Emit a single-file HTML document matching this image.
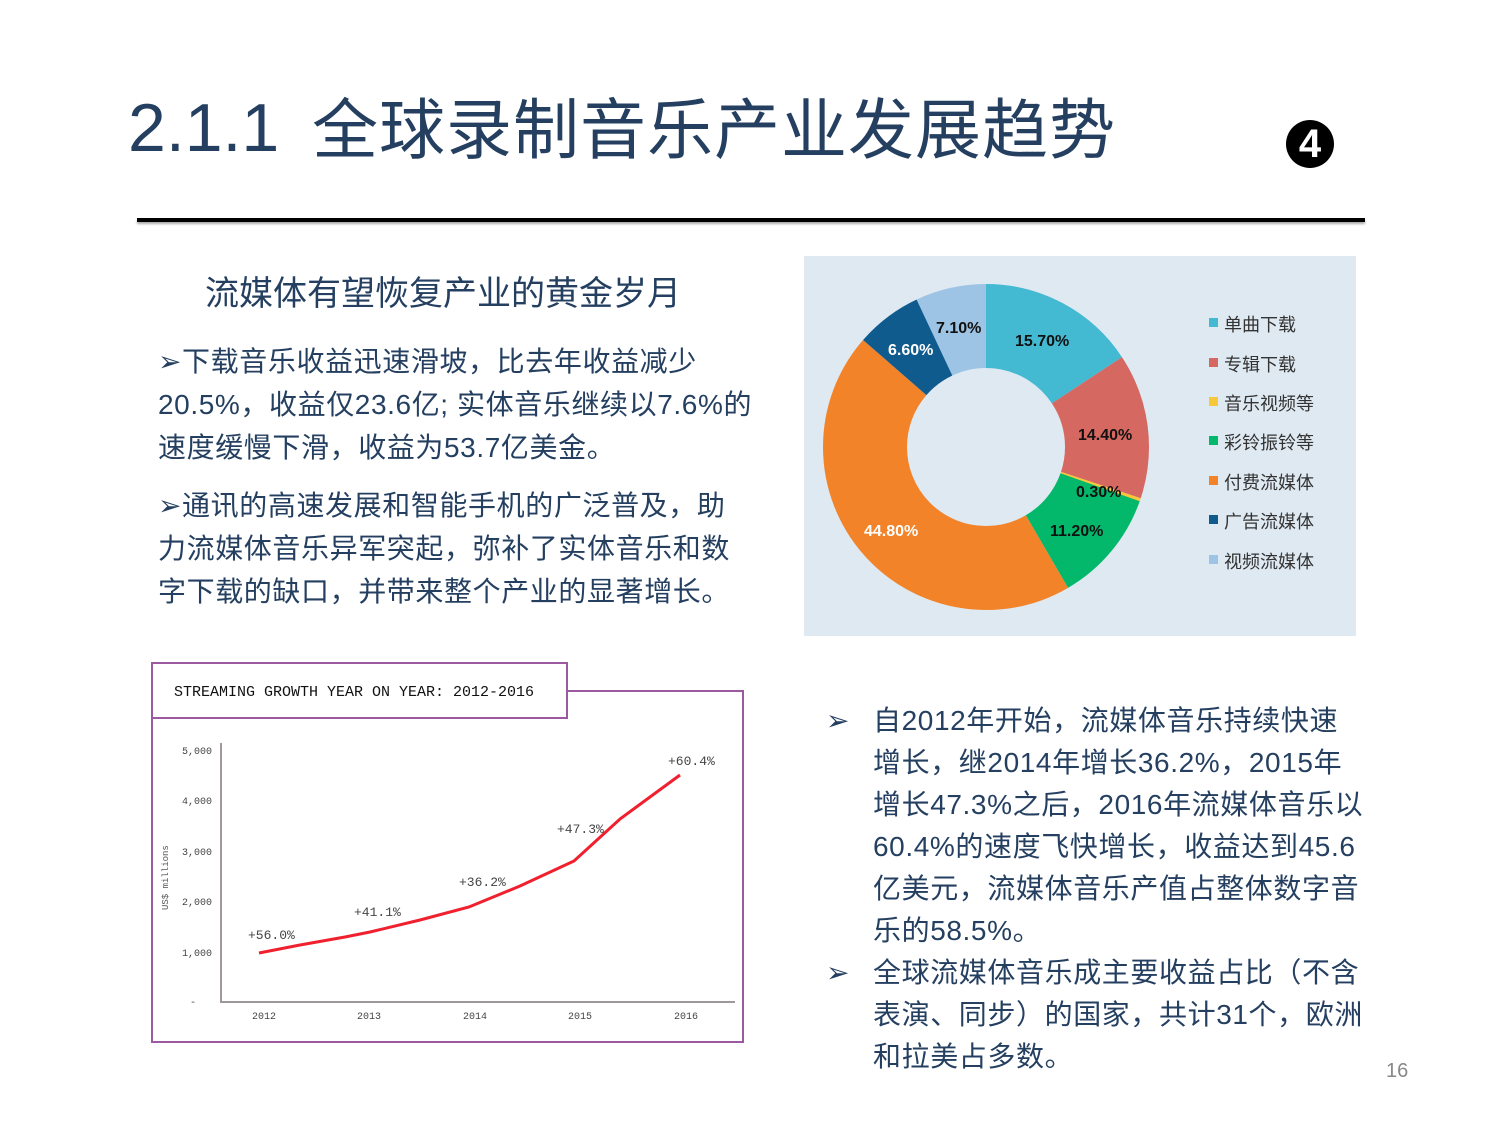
<!DOCTYPE html>
<html><head><meta charset="utf-8"><style>
body{margin:0;width:1500px;height:1125px;background:#fff;position:relative;overflow:hidden;font-family:"Liberation Sans","Noto Sans CJK SC",sans-serif;}
.a{position:absolute;white-space:nowrap;}
.t{color:#243f60;}
.p{font-size:28px;color:#243f60;line-height:43px;}
</style></head><body>
<div class="a t" style="left:128px;top:88px;font-size:68px;line-height:80px;">2.1.1</div>
<div class="a t" style="left:312px;top:90px;font-size:66px;line-height:80px;letter-spacing:1px;">全球录制音乐产业发展趋势</div>
<div class="a" style="left:1286px;top:120px;width:48px;height:48px;border-radius:50%;background:#000;color:#fff;font-size:40px;font-weight:bold;text-align:center;line-height:48px;">4</div>
<div class="a" style="left:137px;top:218px;width:1228px;height:4px;background:#000;box-shadow:0 2px 2px #aaa;"></div>

<div class="a t" style="left:205px;top:266px;font-size:34px;">流媒体有望恢复产业的黄金岁月</div>
<div class="a p" style="left:158px;top:340px;letter-spacing:0.6px;">➢下载音乐收益迅速滑坡，比去年收益减少<br>20.5%，收益仅23.6亿; 实体音乐继续以7.6%的<br>速度缓慢下滑，收益为53.7亿美金。</div>
<div class="a p" style="left:158px;top:484px;letter-spacing:0.6px;">➢通讯的高速发展和智能手机的广泛普及，助<br>力流媒体音乐异军突起，弥补了实体音乐和数<br>字下载的缺口，并带来整个产业的显著增长。</div>

<div class="a" style="left:804px;top:256px;width:552px;height:380px;background:#dfe9f2;"></div>
<svg class="a" style="left:0;top:0" width="1500" height="1125">
<g transform="translate(986,447) rotate(-90)" fill="none" stroke-width="84">
<circle r="121" pathLength="100" stroke="#43b9d2" stroke-dasharray="15.7 100" stroke-dashoffset="0"/>
<circle r="121" pathLength="100" stroke="#d66862" stroke-dasharray="14.4 100" stroke-dashoffset="-15.7"/>
<circle r="121" pathLength="100" stroke="#f6c83a" stroke-dasharray="0.4 100" stroke-dashoffset="-30.1"/>
<circle r="121" pathLength="100" stroke="#03b86a" stroke-dasharray="11.2 100" stroke-dashoffset="-30.4"/>
<circle r="121" pathLength="100" stroke="#f28329" stroke-dasharray="44.8 100" stroke-dashoffset="-41.6"/>
<circle r="121" pathLength="100" stroke="#105b8e" stroke-dasharray="6.6 100" stroke-dashoffset="-86.4"/>
<circle r="121" pathLength="100" stroke="#9dc3e5" stroke-dasharray="7.1 100" stroke-dashoffset="-93"/>
</g>
<g font-family="Liberation Sans" font-size="16" font-weight="bold">
<text x="1015" y="346" fill="#111">15.70%</text>
<text x="936" y="333" fill="#111">7.10%</text>
<text x="888" y="355" fill="#fff">6.60%</text>
<text x="1078" y="440" fill="#111">14.40%</text>
<text x="1076" y="497" fill="#111">0.30%</text>
<text x="1050" y="536" fill="#111">11.20%</text>
<text x="864" y="536" fill="#fff">44.80%</text>
</g>
<g font-family="Liberation Sans,Noto Sans CJK SC,sans-serif" font-size="18" fill="#333">
<rect x="1209" y="318" width="9" height="9" fill="#43b9d2"/><text x="1224" y="331">单曲下载</text>
<rect x="1209" y="358" width="9" height="9" fill="#d66862"/><text x="1224" y="371">专辑下载</text>
<rect x="1209" y="397" width="9" height="9" fill="#f6c83a"/><text x="1224" y="410">音乐视频等</text>
<rect x="1209" y="436" width="9" height="9" fill="#03b86a"/><text x="1224" y="449">彩铃振铃等</text>
<rect x="1209" y="476" width="9" height="9" fill="#f28329"/><text x="1224" y="489">付费流媒体</text>
<rect x="1209" y="515" width="9" height="9" fill="#105b8e"/><text x="1224" y="528">广告流媒体</text>
<rect x="1209" y="555" width="9" height="9" fill="#9dc3e5"/><text x="1224" y="568">视频流媒体</text>
</g>

<rect x="152" y="691" width="591" height="351" fill="none" stroke="#9b59a0" stroke-width="2"/>
<rect x="152" y="663" width="415" height="55" fill="#fff" stroke="#9b59a0" stroke-width="2"/>
<text x="174" y="696" font-family="Liberation Mono,monospace" font-size="15" fill="#111">STREAMING GROWTH YEAR ON YEAR: 2012-2016</text>
<line x1="221" y1="743" x2="221" y2="1002" stroke="#a09898" stroke-width="2"/>
<line x1="220" y1="1002" x2="735" y2="1002" stroke="#a09898" stroke-width="2"/>
<g font-family="Liberation Mono,monospace" font-size="10" fill="#444" text-anchor="end">
<text x="212" y="754">5,000</text><text x="212" y="804">4,000</text><text x="212" y="855">3,000</text>
<text x="212" y="905">2,000</text><text x="212" y="956">1,000</text><text x="196" y="1005">-</text>
</g>
<text transform="translate(168,910) rotate(-90)" font-family="Liberation Mono,monospace" font-size="9" fill="#555">US$ millions</text>
<g font-family="Liberation Mono,monospace" font-size="10" fill="#444" text-anchor="middle">
<text x="264" y="1019">2012</text><text x="369" y="1019">2013</text><text x="475" y="1019">2014</text><text x="580" y="1019">2015</text><text x="686" y="1019">2016</text>
</g>
<polyline points="259,953 300,945 345,937 370,932 420,920 469,907 520,886 574,861 620,819 680,775" fill="none" stroke="#f0202e" stroke-width="3"/>
<g font-family="Liberation Mono,monospace" font-size="13" fill="#444">
<text x="248" y="939">+56.0%</text><text x="354" y="916">+41.1%</text><text x="459" y="886">+36.2%</text>
<text x="557" y="833">+47.3%</text><text x="668" y="765">+60.4%</text>
</g>
</svg>

<div class="a p" style="left:826px;top:700px;line-height:42px;">➢</div>
<div class="a p" style="left:873px;top:700px;line-height:42px;letter-spacing:0.6px;">自2012年开始，流媒体音乐持续快速<br>增长，继2014年增长36.2%，2015年<br>增长47.3%之后，2016年流媒体音乐以<br>60.4%的速度飞快增长，收益达到45.6<br>亿美元，流媒体音乐产值占整体数字音<br>乐的58.5%。</div>
<div class="a p" style="left:826px;top:952px;line-height:42px;">➢</div>
<div class="a p" style="left:873px;top:952px;line-height:42px;letter-spacing:0.6px;">全球流媒体音乐成主要收益占比（不含<br>表演、同步）的国家，共计31个，欧洲<br>和拉美占多数。</div>
<div class="a" style="left:1386px;top:1060px;font-size:20px;color:#888;">16</div>
</body></html>
